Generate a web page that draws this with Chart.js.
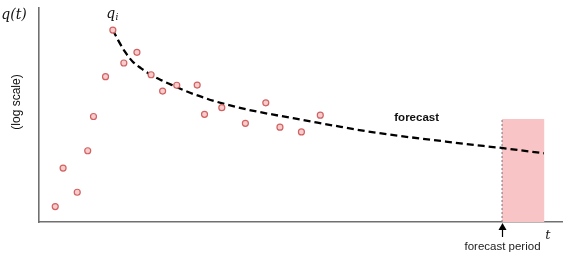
<!DOCTYPE html>
<html>
<head>
<meta charset="utf-8">
<script src="https://cdn.jsdelivr.net/npm/chart.js@4.4.1/dist/chart.umd.min.js"></script>
<style>
  html, body { margin: 0; padding: 0; background: #fff; }
  #wrap { width: 568px; height: 260px; }
</style>
</head>
<body>
<div id="wrap"><canvas id="declineChart" width="568" height="260"></canvas></div>
<script>
// observed rates (time, rate) - arbitrary units, y is log-scaled rate
const obsT = [3.1, 4.6, 7.3, 9.3, 10.4, 12.7, 14.1, 16.2, 18.7, 21.4, 23.6, 26.3, 30.2, 31.6, 34.9, 39.4, 43.3, 46.0, 50.1, 53.7];
const obsQ = [7.2, 25.2, 13.9, 33.3, 49.3, 67.9, 89.7, 74.3, 79.3, 68.8, 61.2, 63.9, 64.0, 50.3, 53.4, 46.1, 55.7, 44.3, 42.1, 49.9];

// fitted decline curve
const fitT = [14.1, 15.1, 16.4, 17.9, 19.5, 21.4, 23.3, 25.3, 27.8, 29.7, 31.6, 33.2, 39.7, 46.0, 50.4, 56.2, 62.5, 68.9, 75.3, 81.6, 88.3, 96.4];
const fitQ = [89.7, 85.0, 79.6, 74.9, 71.8, 68.7, 66.3, 64.1, 61.4, 59.6, 58.0, 56.7, 52.6, 49.6, 47.7, 45.1, 42.4, 40.2, 38.3, 36.4, 34.6, 32.1];

// forecast window
const forecastT = [88.4, 96.5];
const forecastTop = 48.1;

const toXY = (xs, ys) => xs.map((x, i) => ({ x: x, y: ys[i] }));

// --- annotations (labels, arrow) ---
const labelsPlugin = {
    id: 'labels',
    afterDraw(chart) {
        const ctx = chart.ctx;
        const xs = chart.scales.x, ys = chart.scales.y;
        const area = chart.chartArea;
        ctx.save();
        ctx.fillStyle = '#111';
        ctx.textAlign = 'center';
        ctx.textBaseline = 'middle';

        // y axis label
        ctx.font = 'italic 14px "DejaVu Serif"';
        ctx.fillText('q(t)', area.left - 25, 15);
        ctx.save();
        ctx.translate(17, 102);
        ctx.rotate(-Math.PI / 2);
        ctx.font = '12px "Liberation Sans"';
        ctx.fillText('(log scale)', 0, 0);
        ctx.restore();

        // q_i at the peak
        const px = xs.getPixelForValue(obsT[6]);
        const py = ys.getPixelForValue(obsQ[6]);
        ctx.font = 'italic 14px "DejaVu Serif"';
        ctx.fillText('q', px - 2, py - 16);
        ctx.font = 'italic 9px "DejaVu Serif"';
        ctx.fillText('i', px + 4, py - 12);

        // forecast label
        ctx.font = 'bold 11.5px "Liberation Sans"';
        ctx.fillText('forecast', xs.getPixelForValue(72.1), ys.getPixelForValue(48.7));

        // arrow + forecast period
        const fx = Math.round(xs.getPixelForValue(forecastT[0])) + 0.5;
        ctx.strokeStyle = '#000';
        ctx.lineWidth = 1.2;
        ctx.beginPath();
        ctx.moveTo(fx, area.bottom + 15);
        ctx.lineTo(fx, area.bottom + 5);
        ctx.stroke();
        ctx.fillStyle = '#000';
        ctx.beginPath();
        ctx.moveTo(fx, area.bottom + 1);
        ctx.lineTo(fx - 4, area.bottom + 8);
        ctx.lineTo(fx + 4, area.bottom + 8);
        ctx.closePath();
        ctx.fill();

        ctx.fillStyle = '#222';
        ctx.font = '11.5px "Liberation Sans"';
        ctx.fillText('forecast period', fx, area.bottom + 25);

        // t label
        ctx.font = 'italic 13px "DejaVu Serif"';
        ctx.fillText('t', area.right - 15, area.bottom + 14);
        ctx.restore();
    }
};

new Chart(document.getElementById('declineChart'), {
    type: 'scatter',
    data: {
        datasets: [
            {
                // observed data
                data: toXY(obsT, obsQ),
                pointRadius: 3,
                pointBorderWidth: 1.2,
                pointBorderColor: '#d26262',
                pointBackgroundColor: '#f6cccc',
                order: 0
            },
            {
                // fitted / forecast curve
                type: 'line',
                data: toXY(fitT, fitQ),
                borderColor: '#000',
                borderWidth: 2.3,
                borderDash: [7, 4],
                pointRadius: 0,
                cubicInterpolationMode: 'monotone',
                fill: false,
                order: 1
            },
            {
                // dotted start of forecast
                type: 'line',
                data: [{ x: forecastT[0], y: 0 }, { x: forecastT[0], y: forecastTop }],
                borderColor: '#777',
                borderWidth: 1,
                borderDash: [2, 2],
                pointRadius: 0,
                fill: false,
                order: 2
            },
            {
                // forecast period band
                type: 'line',
                data: [{ x: forecastT[0], y: forecastTop }, { x: forecastT[1], y: forecastTop }],
                borderWidth: 0,
                borderColor: 'rgba(0,0,0,0)',
                backgroundColor: '#f9c4c6',
                pointRadius: 0,
                fill: 'origin',
                order: 3
            }
        ]
    },
    options: {
        responsive: false,
        animation: false,
        layout: { padding: { left: 39, right: 5, top: 8, bottom: 38 } },
        scales: {
            x: {
                type: 'linear',
                min: 0,
                max: 100,
                grid: { display: false, drawTicks: false },
                ticks: { display: false },
                border: { display: true, color: '#707070', width: 1.6 }
            },
            y: {
                type: 'linear',
                min: 0,
                max: 100,
                grid: { display: false, drawTicks: false },
                ticks: { display: false },
                border: { display: true, color: '#707070', width: 1.6 }
            }
        },
        plugins: {
            legend: { display: false },
            tooltip: { enabled: false }
        }
    },
    plugins: [labelsPlugin]
});
</script>
</body>
</html>
